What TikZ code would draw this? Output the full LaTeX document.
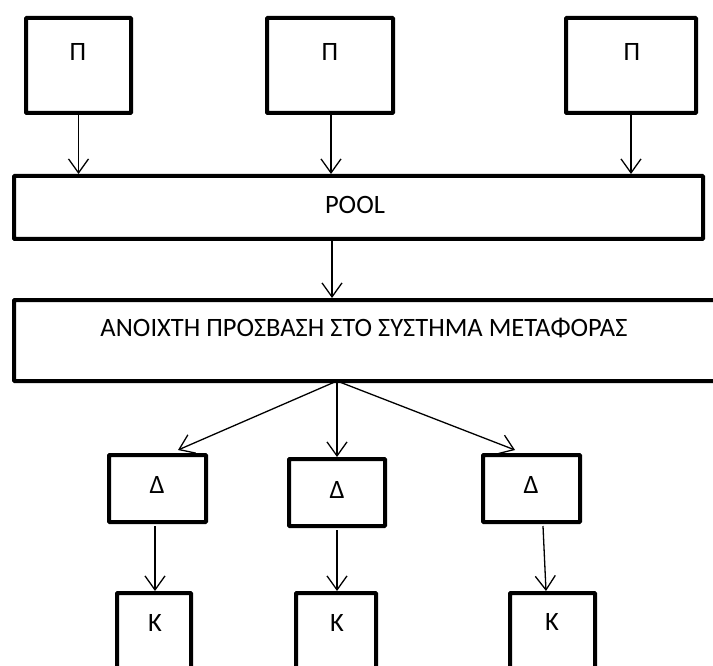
\documentclass[tikz,border=0pt]{standalone}
\usepackage{fontspec}
\setmainfont{Carlito}
\usetikzlibrary{arrows.meta,calc}
\tikzset{
  box/.style={draw, line width=4pt, rectangle, inner sep=0pt, rounded corners=0.8pt},
  lbl/.style={inner sep=0pt, font=\fontsize{26.5}{30}\selectfont},
  conn/.style={line width=1.3pt, -{Straight Barb[length=14pt,width=20pt,line width=1.3pt]}}
}
\begin{document}
\begin{tikzpicture}[x=1pt,y=-1pt]
\useasboundingbox (0,0) rectangle (713,666);
% top boxes
\node[box, minimum width=105pt, minimum height=95pt] (P1) at (78.5,65.5) {};
\node[box, minimum width=126pt, minimum height=95pt] (P2) at (330,65.5) {};
\node[box, minimum width=130pt, minimum height=95pt] (P3) at (631,65.5) {};
\node[lbl] (tP1) at (78,52) {Π};
\node[lbl] (tP2) at (330,52) {Π};
\node[lbl] (tP3) at (632,52) {Π};
% pool
\node[box, minimum width=689pt, minimum height=63pt] (POOL) at (358.5,207.5) {};
\node[lbl] (tPOOL) at (355,205) {POOL};
% big box
\node[box, minimum width=740pt, minimum height=81pt] (BIG) at (384,340.5) {};
\node[lbl] (tBIG) at (364,328) {ΑΝΟΙΧΤΗ ΠΡΟΣΒΑΣΗ ΣΤΟ ΣΥΣΤΗΜΑ ΜΕΤΑΦΟΡΑΣ};
% delta boxes
\node[box, minimum width=97pt, minimum height=67pt] (D1) at (157.5,488.5) {};
\node[box, minimum width=96pt, minimum height=67pt] (D2) at (337,492.5) {};
\node[box, minimum width=97pt, minimum height=67pt] (D3) at (531.5,488.5) {};
\node[lbl] (tD1) at (157,485) {Δ};
\node[lbl] (tD2) at (337,490) {Δ};
\node[lbl] (tD3) at (531,485) {Δ};
% K boxes
\node[box, minimum width=74pt, minimum height=110pt] (K1) at (154,648) {};
\node[box, minimum width=80pt, minimum height=110pt] (K2) at (336,648) {};
\node[box, minimum width=85pt, minimum height=110pt] (K3) at (552.5,648) {};
\node[lbl] (tK1) at (155,623) {K};
\node[lbl] (tK2) at (337,623) {K};
\node[lbl] (tK3) at (552,622) {K};
% connectors
\coordinate (fan) at ($(BIG.south -| D2.north)+(0,-2)$);
\draw[conn] (P1.south) -- (P1.south |- POOL.north);
\draw[conn] ($(P2.south)+(1,0)$) -- ($(P2.south |- POOL.north)+(1,0)$);
\draw[conn] (P3.south) -- (P3.south |- POOL.north);
\draw[conn] ($(POOL.south -| P2.south)+(2,0)$) -- ($(BIG.north -| P2.south)+(2,0)$);
\draw[conn] (fan) -- ($(D1.north)+(20.5,-3)$);
\draw[conn] (fan) -- (D2.north);
\draw[conn] (fan) -- ($(D3.north)+(-16.5,-3)$);
\draw[conn] ($(D1.south)+(-2.5,2)$) -- ($(K1.north)+(1,0)$);
\draw[conn] ($(D2.south)+(0,2)$) -- ($(K2.north)+(1,0)$);
\draw[conn] ($(D3.south)+(11.5,2)$) -- ($(K3.north)+(-6.5,0)$);
\end{tikzpicture}
\end{document}
